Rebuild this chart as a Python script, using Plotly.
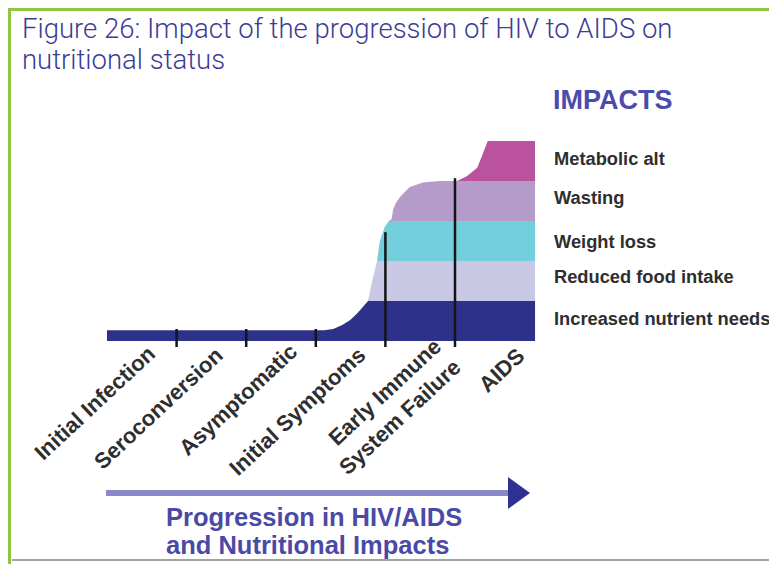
import numpy as np
import plotly.graph_objects as go

# progression stages (one unit per stage along the x axis)
stages = ["Initial Infection", "Seroconversion", "Asymptomatic", "Initial Symptoms",
          "Early Immune<br>System Failure", "AIDS"]
stage_marks = [1, 2, 3, 4, 5]
mark_tops = [0.3, 0.3, 0.3, 2.72, 4.07]
mark_bottom = -0.15

# impact bands, bottom to top
impacts = ["Increased nutrient needs", "Reduced food intake", "Weight loss",
           "Wasting", "Metabolic alt"]
band_colors = ["#2e3189", "#c9c9e5", "#73cfdc", "#b59bc9", "#ba529d"]

# outline of the stacked impact area (progression, cumulative impact level)
env_x = [0.0, 3.0, 3.12, 3.25, 3.38, 3.49, 3.59, 3.66, 3.75, 3.81, 3.88, 3.92, 3.99,
         4.05, 4.09, 4.11, 4.15, 4.21, 4.35, 4.54, 4.78, 5.03, 5.17, 5.32, 5.40,
         5.45, 5.47, 6.15]
env_y = [0.27, 0.27, 0.27, 0.30, 0.40, 0.52, 0.68, 0.82, 1.0, 1.5, 2.0, 2.5, 2.85,
         3.0, 3.05, 3.28, 3.45, 3.6, 3.85, 3.96, 4.0, 4.0, 4.12, 4.33, 4.68,
         4.88, 5.0, 5.0]

# page is 777x564, the figure sits 8px in from the top-left corner
PAGE_W, PAGE_H, OFF = 777, 564, 8
W, H = PAGE_W - OFF, PAGE_H - OFF
PX_UNIT, X0 = 69.6, 107   # px per stage, page px of stage 0
PY_UNIT, Y0 = 40, 341     # px per level, page px of level 0


def px(v):
    return (v - X0) / PX_UNIT


def py(v):
    return (Y0 - v) / PY_UNIT


def paper_x(v):
    return (v - OFF) / W


def paper_y(v):
    return 1 - (v - OFF) / H


fig = go.Figure()

ex = np.array(env_x)
ey = np.array(env_y)
for k, (name, col) in enumerate(zip(impacts, band_colors)):
    upper = np.clip(ey, k, k + 1)
    fig.add_trace(go.Scatter(
        x=list(ex) + list(ex[::-1]),
        y=list(upper) + [k] * len(ex),
        fill="toself", fillcolor=col, mode="lines",
        line=dict(width=0, color=col), name=name, hoverinfo="name",
    ))

# stage dividers
vx, vy = [], []
for m, t in zip(stage_marks, mark_tops):
    vx += [m, m, None]
    vy += [mark_bottom, t, None]
fig.add_trace(go.Scatter(x=vx, y=vy, mode="lines",
                         line=dict(color="#151515", width=2.5), hoverinfo="skip"))

# stage labels (centre of each rotated label, page px)
label_pos = [(94, 403), (158, 408), (238, 399), (297, 411), (390, 407), (501, 370)]
for lab, (lx, ly) in zip(stages, label_pos):
    fig.add_annotation(x=px(lx), y=py(ly), text=lab, showarrow=False, textangle=-43,
                       xanchor="center", yanchor="middle", align="right",
                       font=dict(family="Liberation Sans", size=22, color="#2e2e2e",
                                 weight="bold"))

# impact labels
label_levels = [0.575, 1.625, 2.5, 3.6, 4.575]
for name, lv in zip(impacts, label_levels):
    fig.add_annotation(x=px(552), y=lv, text=name, showarrow=False,
                       xanchor="left", yanchor="middle",
                       font=dict(family="Liberation Sans", size=18.3, color="#2e2e2e",
                                 weight="bold"))
fig.add_annotation(x=px(551), y=py(100), text="IMPACTS", showarrow=False,
                   xanchor="left", yanchor="middle",
                   font=dict(family="Liberation Sans", size=27, color="#4b4bab",
                             weight="bold"))

# progression arrow
fig.add_shape(type="line", x0=px(106), x1=px(512), y0=py(493), y1=py(493),
              line=dict(color="#8a88c9", width=6))
fig.add_shape(type="path",
              path=f"M {px(508)},{py(477)} L {px(530)},{py(493)} L {px(508)},{py(509)} Z",
              fillcolor="#2e3192", line=dict(width=0))
for txt, ty in [("Progression in HIV/AIDS", 517), ("and Nutritional Impacts", 545)]:
    fig.add_annotation(x=px(164), y=py(ty), text=txt, showarrow=False,
                       xanchor="left", yanchor="middle",
                       font=dict(family="Liberation Sans", size=25.5, color="#4a4aa6",
                                 weight="bold"))

# title
for txt, ty in [("Figure 26: Impact of the progression of HIV to AIDS on", 28),
                ("nutritional status", 60)]:
    fig.add_annotation(x=paper_x(20), y=paper_y(ty), xref="paper", yref="paper",
                       text=txt, showarrow=False, xanchor="left", yanchor="middle",
                       font=dict(family="Roboto", size=27.5, color="#3c3c96", weight=300))

# frame
fig.add_shape(type="line", xref="paper", yref="paper", x0=paper_x(9.5), x1=paper_x(9.5),
              y0=0, y1=paper_y(8), line=dict(color="#8dc63f", width=3))
fig.add_shape(type="line", xref="paper", yref="paper", x0=paper_x(8), x1=1,
              y0=paper_y(9.5), y1=paper_y(9.5), line=dict(color="#8dc63f", width=3))
fig.add_shape(type="line", xref="paper", yref="paper", x0=paper_x(12), x1=1,
              y0=paper_y(560), y1=paper_y(560), line=dict(color="#a3a3a3", width=2))

fig.update_layout(
    width=W, height=H, autosize=False, showlegend=False,
    margin=dict(l=0, r=0, t=0, b=0),
    paper_bgcolor="white", plot_bgcolor="white",
    xaxis=dict(range=[px(OFF), px(PAGE_W)], visible=False, fixedrange=True),
    yaxis=dict(range=[py(PAGE_H), py(OFF)], visible=False, fixedrange=True),
)
fig.write_html("out.html")
